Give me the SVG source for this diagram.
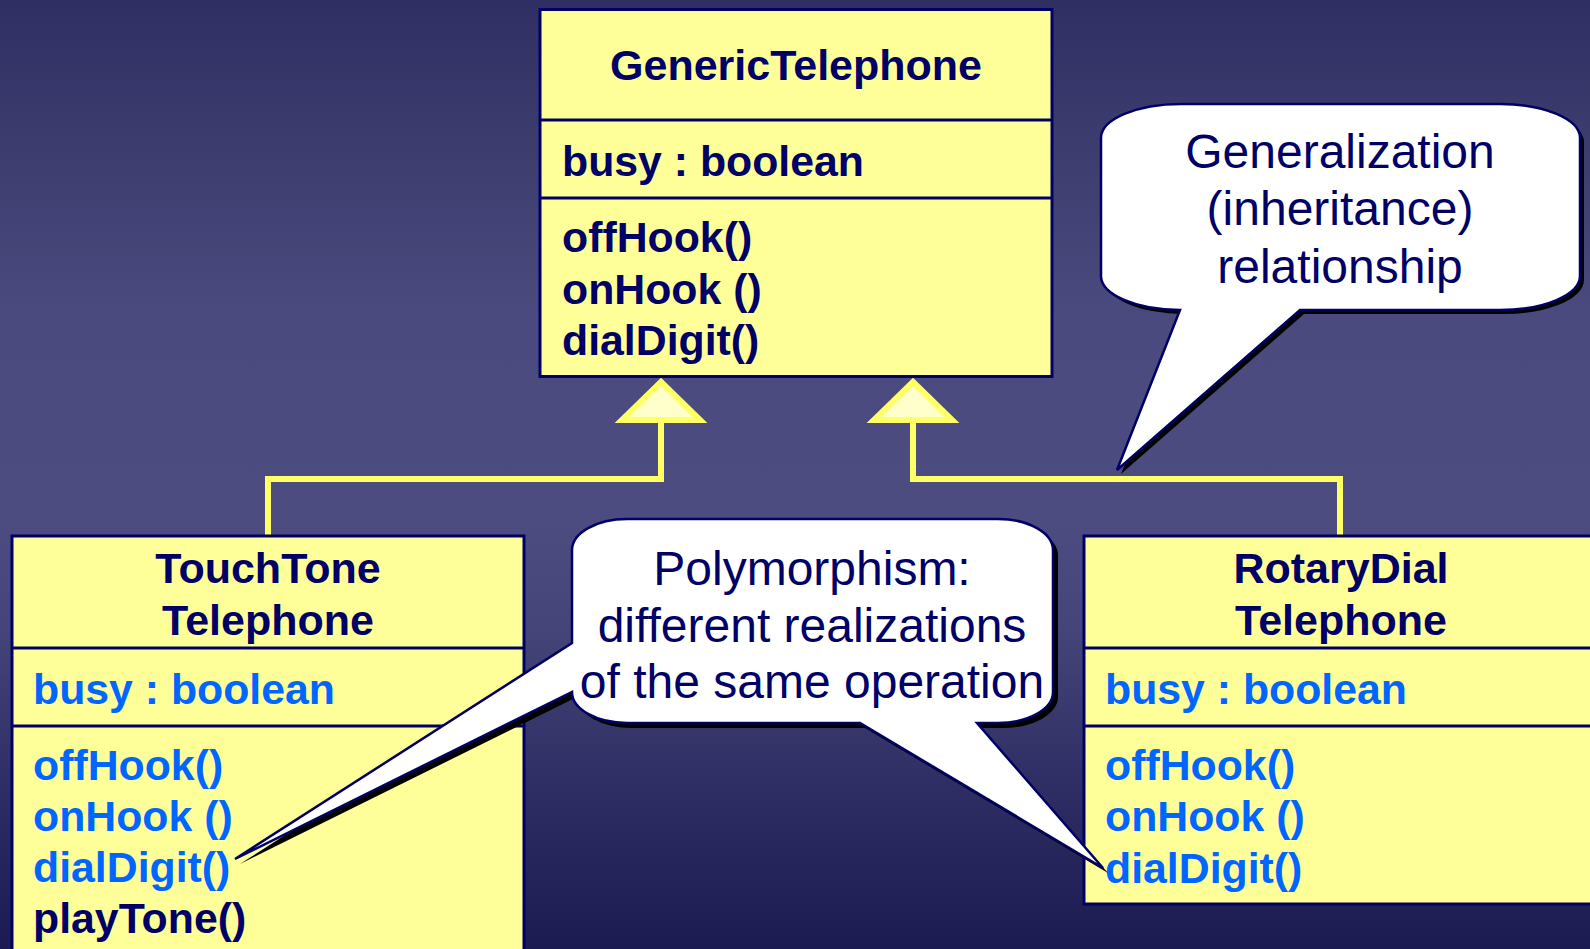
<svg xmlns="http://www.w3.org/2000/svg" width="1590" height="949" viewBox="0 0 1590 949">
  <defs>
    <linearGradient id="bg" x1="0" y1="0" x2="0" y2="1">
      <stop offset="0" stop-color="#2f2f63"/>
      <stop offset="0.15" stop-color="#3d3c6f"/>
      <stop offset="0.33" stop-color="#4b4a7e"/>
      <stop offset="0.55" stop-color="#4d4c80"/>
      <stop offset="0.66" stop-color="#464579"/>
      <stop offset="0.82" stop-color="#302f65"/>
      <stop offset="1" stop-color="#1b1a51"/>
    </linearGradient>
    <!-- callout outlines, reused for the drop shadow -->
    <path id="calloutGen" d="M1181,104 H1500 A80,34 0 0 1 1580,138 V276 A80,34 0 0 1 1500,310 H1300 L1117,470 L1180,310 A80,34 0 0 1 1101,276 V138 A80,34 0 0 1 1181,104 Z"/>
    <path id="calloutPoly" d="M627,519 H998 A55,31 0 0 1 1053,550 V692 A55,31 0 0 1 998,723 H977 L1103,868 L860,723 H627 A55,31 0 0 1 572,692 L235,859 L572,643 V550 A55,31 0 0 1 627,519 Z"/>
  </defs>
  <style>
    .box { fill: #ffff99; stroke: #000066; stroke-width: 3; }
    .div { stroke: #000066; stroke-width: 3; }
    .title { font-family: "Liberation Sans", Arial, sans-serif; font-weight: bold; font-size: 43px; fill: #000066; text-anchor: middle; }
    .member { font-family: "Liberation Sans", Arial, sans-serif; font-weight: bold; font-size: 42.8px; fill: #000066; }
    .inherited { fill: #0066ff; }
    .link { fill: none; stroke: #ffff66; stroke-width: 6; }
    .head { fill: #ffffcc; stroke: #ffff66; stroke-width: 6; stroke-linejoin: miter; }
    .callout { fill: #ffffff; stroke: #000066; stroke-width: 2.5; stroke-linejoin: miter; }
    .shadow { fill: #000000; }
    .note { font-family: "Liberation Sans", Arial, sans-serif; font-size: 48px; fill: #000066; text-anchor: middle; }
  </style>

  <rect x="0" y="0" width="1590" height="949" fill="url(#bg)"/>

  <!-- generalization connectors -->
  <g id="connectors">
    <path class="link" d="M661,420 V479 H268 V536"/>
    <path class="link" d="M913,420 V479 H1340 V536"/>
    <path class="head" d="M661,382 L700,420 L622,420 Z"/>
    <path class="head" d="M913,382 L952,420 L874,420 Z"/>
  </g>

  <g id="GenericTelephone">
    <rect class="box" x="540" y="9.5" width="512" height="367"/>
    <line class="div" x1="540" y1="120" x2="1052" y2="120"/>
    <line class="div" x1="540" y1="198" x2="1052" y2="198"/>
    <text class="title" x="796" y="80">GenericTelephone</text>
    <text class="member" x="562" y="176">busy : boolean</text>
    <text class="member" x="562" y="252">offHook()</text>
    <text class="member" x="562" y="303.5">onHook ()</text>
    <text class="member" x="562" y="355">dialDigit()</text>
  </g>

  <g id="TouchToneTelephone">
    <rect class="box" x="12" y="536" width="512" height="430"/>
    <line class="div" x1="12" y1="648" x2="524" y2="648"/>
    <line class="div" x1="12" y1="726" x2="524" y2="726"/>
    <text class="title" x="268" y="583">TouchTone</text>
    <text class="title" x="268" y="635">Telephone</text>
    <text class="member inherited" x="33" y="704">busy : boolean</text>
    <text class="member inherited" x="33" y="780">offHook()</text>
    <text class="member inherited" x="33" y="831">onHook ()</text>
    <text class="member inherited" x="33" y="882">dialDigit()</text>
    <text class="member" x="33" y="933">playTone()</text>
  </g>

  <g id="RotaryDialTelephone">
    <rect class="box" x="1084" y="536" width="520" height="368"/>
    <line class="div" x1="1084" y1="648" x2="1600" y2="648"/>
    <line class="div" x1="1084" y1="726" x2="1600" y2="726"/>
    <text class="title" x="1341" y="583">RotaryDial</text>
    <text class="title" x="1341" y="635">Telephone</text>
    <text class="member inherited" x="1105" y="704">busy : boolean</text>
    <text class="member inherited" x="1105" y="780">offHook()</text>
    <text class="member inherited" x="1105" y="831">onHook ()</text>
    <text class="member inherited" x="1105" y="883">dialDigit()</text>
  </g>

  <g id="GeneralizationNote">
    <use href="#calloutGen" class="shadow" transform="translate(4,4)"/>
    <use href="#calloutGen" class="callout"/>
    <text class="note" x="1340" y="168">Generalization</text>
    <text class="note" x="1340" y="225">(inheritance)</text>
    <text class="note" x="1340" y="283">relationship</text>
  </g>

  <g id="PolymorphismNote">
    <use href="#calloutPoly" class="shadow" transform="translate(5,5)"/>
    <use href="#calloutPoly" class="callout"/>
    <text class="note" x="812" y="585">Polymorphism:</text>
    <text class="note" x="812" y="642">different realizations</text>
    <text class="note" x="812" y="698">of the same operation</text>
  </g>
</svg>
